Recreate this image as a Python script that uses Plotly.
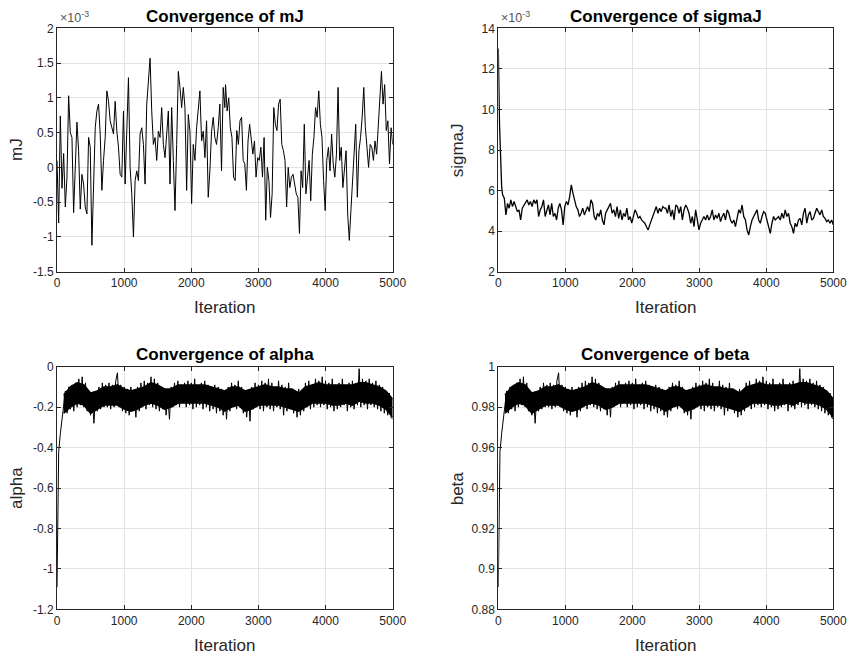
import numpy as np
import plotly.graph_objects as go

# ---------------- data ----------------
# mJ trace, values in units of 1e-3, first half (iter 0..2500) and second half (2510..5000)
mj_first = [0.1, -0.8, 0.74, -0.3, 0.2, -0.57, -0.14, 1.03, 0.5, 0.43, -0.65, 0.1, 0.65, 0.24, -0.6,
            -0.1, -0.24, -0.57, -0.67, 0.43, 0.29, -1.12, -0.38, 0.57, 0.81, 0.91, 0.48, -0.33, 0.1,
            0.43, 1.1, 0.95, 0.67, 0.57, 0.48, 0.95, 0.52, 0.29, -0.1, -0.14, 0.81, -0.24, 0.57, 1.29,
            0.0, -0.38, -1.0, -0.19, -0.05, -0.19, 0.48, 0.57, 0.33, -0.24, 0.91, 1.29, 1.57, 0.81,
            0.33, 0.43, 0.1, 0.52, 0.43, 0.86, 0.33, 0.14, 0.57, 0.81, -0.24, 0.86, 0.1, -0.62, 0.33,
            1.38, 1.15, 0.86, 1.15, 0.86, -0.33, 0.76, 0.52, -0.52, 0.33, 0.1, 0.57, 0.91, 1.1, 0.38,
            0.52, 0.14, 0.67, -0.43, -0.05, 0.52, 0.72, 0.43, 0.33, 0.57, 0.91, -0.05, 1.15, 0.86]
mj_second = [1.19, 0.81, 1.0, 0.57, 0.43, -0.14, -0.19, 0.53, 0.33, 0.67, 0.72, 0.1, 0.05, -0.33, 0.38,
             0.62, 0.43, 0.19, 0.38, -0.14, 0.14, 0.1, 0.29, -0.14, 0.43, -0.76, 0.0, -0.19, -0.72,
             -0.38, 0.86, 0.62, 0.53, 0.91, 0.98, 0.33, 0.24, 0.1, -0.57, 0.0, -0.29, -0.14, -0.1,
             -0.24, -0.38, -0.43, -0.95, -0.05, -0.29, 0.62, -0.38, -0.14, 0.1, -0.48, 0.19, 0.43,
             0.86, 0.72, 1.1, 0.62, 0.43, -0.19, -0.62, 0.1, 0.29, -0.05, 0.48, 0.05, -0.14, 0.19,
             1.15, 0.1, 0.29, -0.29, 0.05, 0.24, -0.67, -1.05, -0.62, -0.19, 0.19, 0.62, -0.43, 0.24,
             0.43, 0.72, 1.15, 0.57, 0.29, 0.0, 0.33, 0.29, 0.1, 0.38, 0.19, 0.62, 0.86, 1.38, 0.91,
             1.19, 0.53, 0.67, 0.05, 0.57, 0.33]

# sigmaJ trace, values in units of 1e-3
sig_head_iter = [0, 4, 8, 12, 18, 25, 32, 40, 50, 58]
sig_head = [13.0, 11.5, 10.3, 10.0, 9.3, 8.6, 7.6, 6.8, 6.2, 5.95]
sig_first = [5.79, 5.62, 4.80, 5.37, 5.13, 5.54, 5.21, 5.46, 5.21, 4.96, 5.05, 4.55, 5.13, 5.29, 5.37,
             5.54, 5.29, 5.46, 5.21, 5.54, 5.37, 5.54, 4.72, 5.05, 5.21, 5.54, 4.72, 5.05, 5.29, 4.80,
             5.37, 4.72, 4.88, 4.55, 5.13, 5.37, 5.05, 4.31, 5.21, 5.46, 5.29, 5.70, 6.28, 5.87, 5.46,
             5.21, 5.05, 4.72, 4.88, 5.13, 4.80, 5.05, 5.21, 4.96, 5.54, 5.37, 4.72, 4.55, 4.88, 4.72,
             5.05, 4.55, 4.31, 4.88, 5.05, 5.21, 5.37, 4.88, 5.05, 4.72, 5.21, 4.63, 5.05, 4.55, 4.88,
             4.72, 5.13, 4.55, 4.72, 4.39, 4.72, 5.05, 4.88, 4.63, 4.72, 4.55, 4.47, 4.39, 4.22, 4.06,
             4.31, 4.55, 4.72, 5.05, 5.21, 4.88, 5.13, 4.96, 5.21, 5.13]
sig_second = [5.13, 4.88, 5.29, 4.72, 5.05, 4.55, 5.29, 5.21, 4.88, 5.21, 4.55, 5.05, 5.29, 5.13, 4.88,
              4.39, 4.72, 4.22, 5.05, 4.55, 4.06, 4.39, 4.55, 4.72, 4.55, 4.80, 4.55, 4.72, 5.05, 4.55,
              4.80, 4.63, 4.88, 4.47, 4.72, 4.88, 4.55, 5.05, 4.88, 4.55, 4.39, 4.55, 4.22, 4.72, 5.05,
              4.88, 5.29, 4.72, 4.55, 4.06, 3.81, 4.22, 4.55, 4.72, 4.88, 5.05, 4.55, 4.39, 4.72, 4.96,
              4.88, 4.55, 4.14, 3.89, 4.39, 4.72, 4.55, 4.63, 4.72, 4.55, 4.88, 4.63, 5.05, 4.72, 4.88,
              4.39, 4.22, 3.89, 4.39, 4.22, 4.55, 4.63, 4.31, 4.88, 5.13, 4.39, 4.80, 4.96, 4.55, 4.63,
              4.88, 5.13, 4.96, 4.80, 5.05, 4.72, 4.63, 4.47, 4.55, 4.39, 4.55, 4.31]

# alpha trace (every ~25 iterations, alternating local highs and lows of the dense band)
alpha_vals = [
    -1.09, -0.42, -0.33, -0.26, -0.20,
    -0.12, -0.23, -0.10, -0.21, -0.09, -0.22, -0.08, -0.20, -0.06, -0.19, -0.05, -0.20,
    -0.08, -0.22, -0.12, -0.24,
    -0.15, -0.28, -0.13,
    -0.22, -0.10, -0.21, -0.08, -0.20, -0.09, -0.20, -0.08, -0.21, -0.09, -0.20, -0.07, -0.03, -0.20, -0.09, -0.22, -0.10,
    -0.23, -0.11, -0.24, -0.10, -0.22, -0.12, -0.25, -0.10, -0.22, -0.08, -0.20, -0.07, -0.21, -0.08, -0.19, -0.05, -0.20, -0.06, -0.21, -0.08,
    -0.22, -0.10, -0.21, -0.11, -0.24, -0.14, -0.26, -0.10, -0.20, -0.08, -0.19, -0.07, -0.20, -0.09, -0.18, -0.08, -0.20, -0.07, -0.19, -0.08,
    -0.21, -0.06, -0.20, -0.09, -0.19, -0.08, -0.21, -0.07, -0.20, -0.09, -0.22, -0.10, -0.21, -0.09, -0.23, -0.10, -0.22, -0.11, -0.24, -0.12,
    -0.26, -0.10, -0.22, -0.08, -0.20, -0.09, -0.21, -0.07, -0.20, -0.10, -0.23, -0.12, -0.25, -0.14, -0.27, -0.10, -0.21, -0.08, -0.20, -0.09,
    -0.21, -0.07, -0.22, -0.08, -0.20, -0.06, -0.21, -0.08, -0.22, -0.10, -0.20, -0.07, -0.21, -0.09, -0.24, -0.10, -0.22, -0.08, -0.21, -0.11,
    -0.23, -0.12, -0.25, -0.11, -0.24, -0.12, -0.22, -0.08, -0.20, -0.07, -0.21, -0.09, -0.20, -0.06, -0.19, -0.07, -0.20, -0.05, -0.19, -0.07,
    -0.21, -0.08, -0.20, -0.06, -0.22, -0.09, -0.21, -0.08, -0.20, -0.06, -0.19, -0.09, -0.22, -0.08, -0.20, -0.07, -0.21, -0.09, -0.19, -0.01,
    -0.20, -0.06, -0.19, -0.07, -0.21, -0.06, -0.19, -0.08, -0.20, -0.07, -0.21, -0.09, -0.22, -0.10, -0.23, -0.12, -0.24, -0.13, -0.25, -0.26]

# solid core of the alpha band, read every 100 iterations from 100 to 5000
alpha_core_hi = [-0.14, -0.10, -0.08, -0.09, -0.13, -0.12, -0.10, -0.10, -0.09, -0.11,
                 -0.12, -0.11, -0.10, -0.08, -0.09, -0.11, -0.11, -0.09, -0.09, -0.09,
                 -0.09, -0.09, -0.10, -0.11, -0.12, -0.10, -0.10, -0.12, -0.11, -0.10,
                 -0.09, -0.10, -0.10, -0.11, -0.11, -0.13, -0.10, -0.09, -0.08, -0.09,
                 -0.09, -0.09, -0.09, -0.09, -0.08, -0.08, -0.09, -0.10, -0.12, -0.16]
alpha_core_lo = [-0.23, -0.20, -0.18, -0.19, -0.23, -0.21, -0.19, -0.19, -0.19, -0.21,
                 -0.22, -0.21, -0.19, -0.18, -0.19, -0.21, -0.20, -0.18, -0.18, -0.18,
                 -0.18, -0.18, -0.19, -0.20, -0.22, -0.20, -0.19, -0.22, -0.21, -0.19,
                 -0.19, -0.19, -0.19, -0.20, -0.21, -0.22, -0.20, -0.18, -0.18, -0.18,
                 -0.19, -0.19, -0.18, -0.19, -0.17, -0.18, -0.18, -0.19, -0.21, -0.25]

# beta trace (every ~25 iterations, alternating local highs and lows of the dense band)
beta_vals = [
    0.891, 0.958, 0.967, 0.974, 0.980,
    0.988, 0.977, 0.990, 0.979, 0.991, 0.978, 0.992, 0.980, 0.994, 0.981, 0.995, 0.980,
    0.992, 0.978, 0.988, 0.976,
    0.985, 0.972, 0.987,
    0.978, 0.990, 0.979, 0.992, 0.980, 0.991, 0.980, 0.992, 0.979, 0.991, 0.980, 0.993, 0.997, 0.980, 0.991, 0.978, 0.990,
    0.977, 0.989, 0.976, 0.990, 0.978, 0.988, 0.975, 0.990, 0.978, 0.992, 0.980, 0.993, 0.979, 0.992, 0.981, 0.995, 0.980, 0.994, 0.979, 0.992,
    0.978, 0.990, 0.979, 0.989, 0.976, 0.986, 0.975, 0.990, 0.980, 0.992, 0.981, 0.993, 0.980, 0.991, 0.982, 0.992, 0.980, 0.993, 0.981, 0.992,
    0.979, 0.994, 0.980, 0.991, 0.981, 0.992, 0.979, 0.993, 0.980, 0.991, 0.978, 0.990, 0.979, 0.991, 0.977, 0.990, 0.978, 0.989, 0.976, 0.988,
    0.975, 0.990, 0.978, 0.992, 0.980, 0.991, 0.979, 0.993, 0.980, 0.990, 0.977, 0.988, 0.976, 0.986, 0.974, 0.990, 0.979, 0.992, 0.980, 0.991,
    0.979, 0.993, 0.978, 0.992, 0.980, 0.994, 0.979, 0.992, 0.978, 0.990, 0.980, 0.993, 0.979, 0.991, 0.976, 0.990, 0.978, 0.992, 0.979, 0.989,
    0.977, 0.988, 0.975, 0.989, 0.976, 0.988, 0.978, 0.992, 0.980, 0.993, 0.979, 0.991, 0.980, 0.994, 0.981, 0.993, 0.980, 0.995, 0.981, 0.993,
    0.979, 0.992, 0.980, 0.994, 0.978, 0.991, 0.979, 0.992, 0.980, 0.994, 0.981, 0.991, 0.978, 0.992, 0.980, 0.993, 0.979, 0.991, 0.981, 0.999,
    0.980, 0.994, 0.981, 0.993, 0.979, 0.994, 0.981, 0.992, 0.980, 0.993, 0.979, 0.991, 0.978, 0.990, 0.977, 0.988, 0.976, 0.987, 0.975, 0.974]

# solid core of the beta band, read every 100 iterations from 100 to 5000
beta_core_hi = [0.986, 0.990, 0.992, 0.991, 0.987, 0.988, 0.990, 0.990, 0.991, 0.989,
                0.988, 0.989, 0.990, 0.992, 0.991, 0.989, 0.989, 0.991, 0.991, 0.991,
                0.991, 0.991, 0.990, 0.989, 0.988, 0.990, 0.990, 0.988, 0.989, 0.990,
                0.991, 0.990, 0.990, 0.989, 0.989, 0.987, 0.990, 0.991, 0.992, 0.991,
                0.991, 0.991, 0.991, 0.991, 0.992, 0.992, 0.991, 0.990, 0.988, 0.984]
beta_core_lo = [0.977, 0.980, 0.982, 0.981, 0.977, 0.979, 0.981, 0.981, 0.981, 0.979,
                0.978, 0.979, 0.981, 0.982, 0.981, 0.979, 0.980, 0.982, 0.982, 0.982,
                0.982, 0.982, 0.981, 0.980, 0.978, 0.980, 0.981, 0.978, 0.979, 0.981,
                0.981, 0.981, 0.981, 0.980, 0.979, 0.978, 0.980, 0.982, 0.982, 0.982,
                0.981, 0.981, 0.982, 0.981, 0.983, 0.982, 0.982, 0.981, 0.979, 0.975]

titles = ["Convergence of mJ", "Convergence of sigmaJ", "Convergence of alpha", "Convergence of beta"]
ylabels = ["mJ", "sigmaJ", "alpha", "beta"]
x_ticks = [0, 1000, 2000, 3000, 4000, 5000]
mj_ticks = [-1.5, -1, -0.5, 0, 0.5, 1, 1.5, 2]
sig_ticks = [2, 4, 6, 8, 10, 12, 14]
alpha_ticks = [-1.2, -1, -0.8, -0.6, -0.4, -0.2, 0]
beta_ticks = [0.88, 0.9, 0.92, 0.94, 0.96, 0.98, 1]

# ---------------- assemble series ----------------
mj_x = np.concatenate([np.linspace(0, 2500, len(mj_first)), np.linspace(2510, 5000, len(mj_second))])
mj_y = np.array(mj_first + mj_second) * 1e-3
sig_x = np.concatenate([np.array(sig_head_iter, float),
                        np.linspace(65, 2480, len(sig_first)),
                        np.linspace(2500, 5000, len(sig_second))])
sig_y = np.array(sig_head + sig_first + sig_second) * 1e-3
alpha_x = np.linspace(0, 5000, len(alpha_vals))
beta_x = np.linspace(0, 5000, len(beta_vals))
acore_x = np.linspace(100, 5000, len(alpha_core_hi))
bcore_x = np.linspace(100, 5000, len(beta_core_hi))

W, H = 852, 659
FONT = "Liberation Sans, Arial, Helvetica, sans-serif"
AX = "#262626"
GRID = "#e3e3e3"

fig = go.Figure()
line = dict(color="black", width=1)


def band(xs, lo, hi, xa, ya):
    fig.add_trace(go.Scatter(x=xs, y=lo, mode="lines", line=dict(color="black", width=1.5),
                             xaxis=xa, yaxis=ya, hoverinfo="skip"))
    fig.add_trace(go.Scatter(x=xs, y=hi, mode="lines", line=dict(color="black", width=1.5),
                             fill="tonexty", fillcolor="black", xaxis=xa, yaxis=ya, hoverinfo="skip"))


fig.add_trace(go.Scatter(x=mj_x, y=mj_y, mode="lines", line=line, xaxis="x", yaxis="y"))
fig.add_trace(go.Scatter(x=sig_x, y=sig_y, mode="lines", line=dict(color="black", width=1.3),
                         xaxis="x2", yaxis="y2"))
band(acore_x, alpha_core_lo, alpha_core_hi, "x3", "y3")
fig.add_trace(go.Scatter(x=alpha_x, y=alpha_vals, mode="lines", line=line, xaxis="x3", yaxis="y3"))
band(bcore_x, beta_core_lo, beta_core_hi, "x4", "y4")
fig.add_trace(go.Scatter(x=beta_x, y=beta_vals, mode="lines", line=line, xaxis="x4", yaxis="y4"))

# axes boxes in pixels: (left, right, top, bottom)
boxes = [(57, 392.7, 28.3, 271.7), (498.3, 833.3, 28.3, 271.7),
         (57, 392.7, 366.7, 609.3), (498.3, 833.3, 366.7, 609.3)]


def fmt(v):
    return "%g" % v


ycfg = [
    dict(range=[-1.5e-3, 2e-3], tickvals=[t * 1e-3 for t in mj_ticks], ticktext=[fmt(t) for t in mj_ticks]),
    dict(range=[2e-3, 14e-3], tickvals=[t * 1e-3 for t in sig_ticks], ticktext=[fmt(t) for t in sig_ticks]),
    dict(range=[-1.2, 0], tickvals=alpha_ticks, ticktext=[fmt(t) for t in alpha_ticks]),
    dict(range=[0.88, 1], tickvals=beta_ticks, ticktext=[fmt(t) for t in beta_ticks]),
]

layout = dict(template="none", width=W, height=H,
              margin=dict(l=0, r=0, t=0, b=0, pad=0, autoexpand=False),
              paper_bgcolor="white", plot_bgcolor="white", showlegend=False,
              font=dict(family=FONT, color=AX))
common = dict(showline=True, linecolor=AX, linewidth=1, mirror="ticks", ticks="inside",
              ticklen=4, tickcolor=AX, tickwidth=1, showgrid=True, gridcolor=GRID, gridwidth=1,
              zeroline=False, automargin=False, fixedrange=True,
              tickfont=dict(family=FONT, size=12, color=AX))
annotations = []
for i, (l, r, t, b) in enumerate(boxes):
    sfx = "" if i == 0 else str(i + 1)
    layout["xaxis" + sfx] = dict(common, domain=[l / W, r / W], anchor="y" + sfx, range=[0, 5000],
                                 tickvals=x_ticks, ticktext=[str(v) for v in x_ticks])
    layout["yaxis" + sfx] = dict(common, domain=[1 - b / H, 1 - t / H], anchor="x" + sfx, **ycfg[i])
    cx = (l + r) / 2
    annotations.append(dict(text="<b>%s</b>" % titles[i], x=cx / W, y=1 - (t - 12) / H, xref="paper", yref="paper",
                            xanchor="center", yanchor="middle", showarrow=False,
                            font=dict(family=FONT, size=17, color="black")))
    annotations.append(dict(text="Iteration", x=cx / W, y=1 - (b + 36) / H, xref="paper", yref="paper",
                            xanchor="center", yanchor="middle", showarrow=False,
                            font=dict(family=FONT, size=17, color=AX)))
    annotations.append(dict(text=ylabels[i], x=(l - 40) / W, y=1 - (t + b) / 2 / H, xref="paper", yref="paper",
                            xanchor="center", yanchor="middle", textangle=-90, showarrow=False,
                            font=dict(family=FONT, size=17, color=AX)))
    if i < 2:
        annotations.append(dict(text="×10<sup>-3</sup>", x=(l + 1) / W, y=1 - (t - 1) / H, xref="paper", yref="paper",
                                xanchor="left", yanchor="bottom", showarrow=False,
                                font=dict(family=FONT, size=12.5, color="#555555")))
layout["annotations"] = annotations
fig.update_layout(**layout)
fig.write_html("out.html", config={"displayModeBar": False, "staticPlot": True},
               post_script="document.body.style.margin='0';document.body.style.overflow='hidden';")
